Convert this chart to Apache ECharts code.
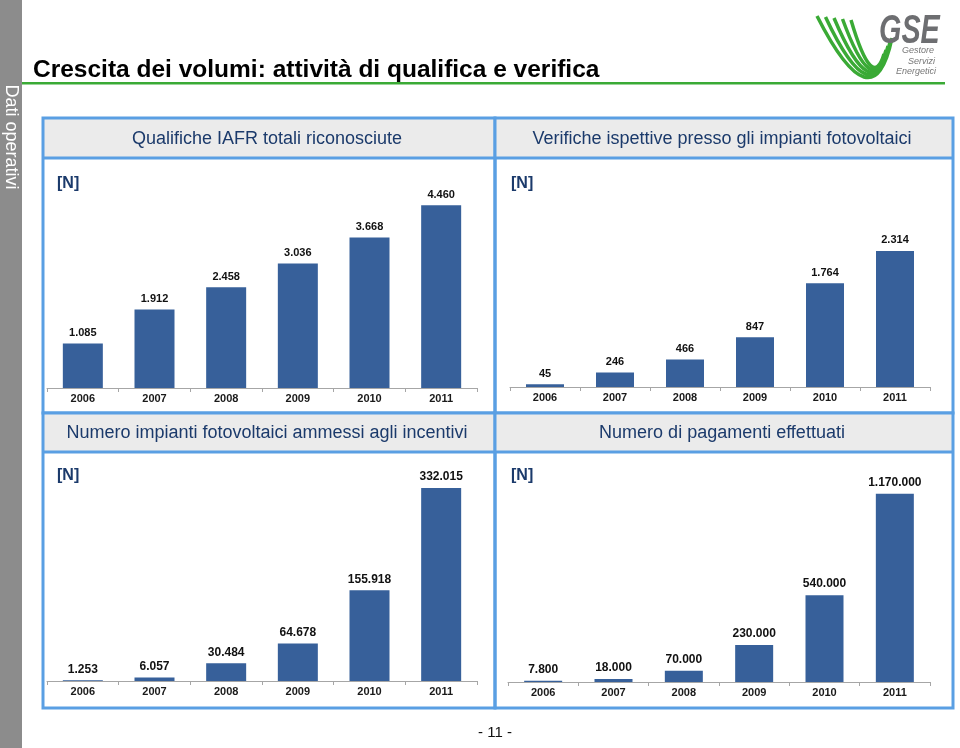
<!DOCTYPE html>
<html>
<head>
<meta charset="utf-8">
<script src="https://cdn.jsdelivr.net/npm/echarts@6/dist/echarts.min.js"></script>
<style>html,body{margin:0;padding:0;background:#fff}#c{width:960px;height:748px}</style>
</head>
<body>
<div id="c"></div>
<script>
var years = ['2006', '2007', '2008', '2009', '2010', '2011'];
var qualificheIAFR = [1085, 1912, 2458, 3036, 3668, 4460];
var verificheIspettive = [45, 246, 466, 847, 1764, 2314];
var impiantiAmmessi = [1253, 6057, 30484, 64678, 155918, 332015];
var pagamentiEffettuati = [7800, 18000, 70000, 230000, 540000, 1170000];
var panelTitles = ['Qualifiche IAFR totali riconosciute', 'Verifiche ispettive presso gli impianti fotovoltaici',
  'Numero impianti fotovoltaici ammessi agli incentivi', 'Numero di pagamenti effettuati'];

var BAR = '#37609a', NAVY = '#1b3a6b', BORDER = '#5a9fe3', HEAD = '#ebebeb', GREEN = '#3aaa35';
function fmt(v) { return String(v).replace(/\B(?=(\d{3})+(?!\d))/g, '.'); }

var grids = [
  {left: 47, top: 183, width: 430, height: 205},
  {left: 510, top: 240, width: 420, height: 147},
  {left: 47, top: 477.5, width: 430, height: 203.5},
  {left: 508, top: 489, width: 422, height: 193}
];
var maxes = [5000, 2500, 350000, 1200000];
var datas = [qualificheIAFR, verificheIspettive, impiantiAmmessi, pagamentiEffettuati];
var labelSizes = [11, 11, 12, 12];
var barWidths = [40, 38, 40, 38];

var xAxes = [], yAxes = [], series = [];
for (var i = 0; i < 4; i++) {
  xAxes.push({
    type: 'category', gridIndex: i, data: years,
    axisLine: {lineStyle: {color: '#a6a6a6', width: 1}},
    axisTick: {show: true, length: 4, lineStyle: {color: '#a6a6a6'}},
    axisLabel: {color: '#1a1a1a', fontWeight: 'bold', fontSize: 11, margin: 5, fontFamily: 'Liberation Sans, Arial, sans-serif'}
  });
  yAxes.push({type: 'value', gridIndex: i, min: 0, max: maxes[i], show: false, splitLine: {show: false}});
  series.push({
    type: 'bar', xAxisIndex: i, yAxisIndex: i, data: datas[i], barWidth: barWidths[i],
    itemStyle: {color: BAR},
    label: {show: true, position: 'top', distance: 5, color: '#111', fontWeight: 'bold',
      fontSize: labelSizes[i], fontFamily: 'Liberation Sans, Arial, sans-serif',
      formatter: function (p) { return fmt(p.value); }},
    silent: true, animation: false
  });
}

var panels = [
  {x: 43, y: 118, w: 452, h: 295, hh: 40},
  {x: 495, y: 118, w: 458, h: 295, hh: 40},
  {x: 43, y: 413, w: 452, h: 295, hh: 39},
  {x: 495, y: 413, w: 458, h: 295, hh: 39}
];
var graphic = [];
// sidebar
graphic.push({type: 'rect', shape: {x: 0, y: 0, width: 22, height: 748}, style: {fill: '#8c8c8c'}, silent: true});
graphic.push({type: 'text', x: 11, y: 137, rotation: -Math.PI / 2,
  style: {text: 'Dati operativi', fill: '#fff', font: '18px "Liberation Sans", Arial, sans-serif', align: 'center', verticalAlign: 'middle'}});
// green rule
graphic.push({type: 'rect', shape: {x: 22, y: 82, width: 923, height: 2.5}, style: {fill: GREEN}, silent: true});
// logo arcs
for (var k = 0; k < 5; k++) {
  var sx = 817 + 8.5 * k, sy = 16 + k, ex = 892 - 2 * k, ey = 38 + 4 * k, bx = 864 + 1.5 * k, by = 77 - 3 * k;
  var cx = 2 * bx - (sx + ex) / 2, cy = 2 * by - (sy + ey) / 2;
  graphic.push({type: 'bezierCurve', shape: {x1: sx, y1: sy, x2: ex, y2: ey, cpx1: cx, cpy1: cy},
    style: {stroke: GREEN, lineWidth: 3.5, fill: null}, silent: true});
}
graphic.push({type: 'text', x: 879, y: 12, scaleX: 0.72,
  style: {text: 'GSE', fill: '#6d6e71', font: 'italic bold 40px "Liberation Sans", Arial, sans-serif', align: 'left', verticalAlign: 'top'}});
var small = [['Gestore', 934, 50], ['Servizi', 935, 61], ['Energetici', 936, 71]];
small.forEach(function (s) {
  graphic.push({type: 'text', x: s[1], y: s[2],
    style: {text: s[0], fill: '#777', font: 'italic 9px "Liberation Sans", Arial, sans-serif', align: 'right', verticalAlign: 'middle'}});
});
// page title
graphic.push({type: 'text', x: 33, y: 70,
  style: {text: 'Crescita dei volumi: attività di qualifica e verifica', fill: '#000',
    font: 'bold 24.5px "Liberation Sans", Arial, sans-serif', align: 'left', verticalAlign: 'middle'}});
// panels
panels.forEach(function (p, idx) {
  graphic.push({type: 'rect', shape: {x: p.x, y: p.y, width: p.w, height: p.hh}, style: {fill: HEAD}, silent: true});
  graphic.push({type: 'rect', shape: {x: p.x, y: p.y, width: p.w, height: p.h}, style: {fill: null, stroke: BORDER, lineWidth: 3}, silent: true});
  graphic.push({type: 'line', shape: {x1: p.x, y1: p.y + p.hh, x2: p.x + p.w, y2: p.y + p.hh}, style: {stroke: BORDER, lineWidth: 3}, silent: true});
  graphic.push({type: 'text', x: p.x + p.w / 2 - 2, y: p.y + p.hh / 2 + 1,
    style: {text: panelTitles[idx], fill: NAVY, font: '18px "Liberation Sans", Arial, sans-serif',
      align: 'center', verticalAlign: 'middle'}});
  graphic.push({type: 'text', x: p.x + (idx % 2 === 0 ? 14 : 16), y: p.y + (idx < 2 ? 66 : 63),
    style: {text: '[N]', fill: NAVY, font: 'bold 16px "Liberation Sans", Arial, sans-serif', align: 'left', verticalAlign: 'middle'}});
});
graphic.push({type: 'text', x: 495, y: 733,
  style: {text: '- 11 -', fill: '#111', font: '15px "Liberation Sans", Arial, sans-serif', align: 'center', verticalAlign: 'middle'}});

var chart = echarts.init(document.getElementById('c'), null, {renderer: 'canvas'});
chart.setOption({
  animation: false,
  grid: grids,
  xAxis: xAxes,
  yAxis: yAxes,
  series: series,
  graphic: graphic
});
</script>
</body>
</html>
